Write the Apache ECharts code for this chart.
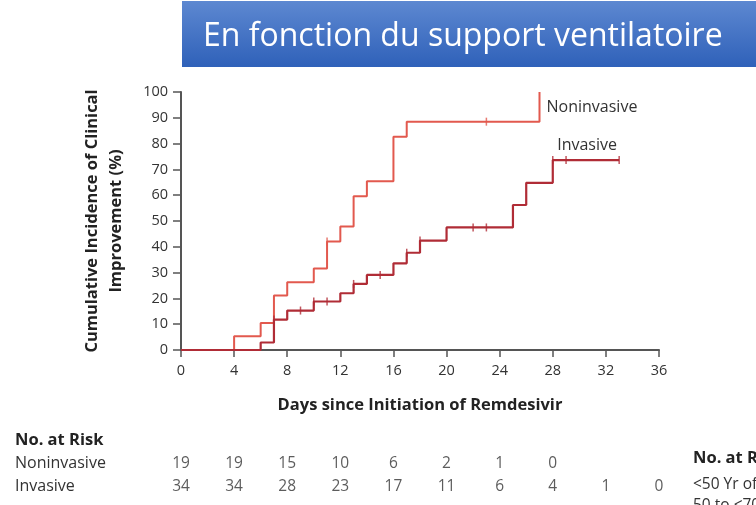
<!DOCTYPE html>
<html lang="fr">
<head>
    <meta charset="utf-8">
    <title>En fonction du support ventilatoire</title>
    <script src="https://cdn.jsdelivr.net/npm/echarts@6/dist/echarts.min.js"></script>
    <style>
        html, body { margin: 0; padding: 0; background: #fff; }
        #main { width: 756px; height: 505px; }
    </style>
</head>
<body>
<div id="main"></div>
<script type="text/javascript">
    // courbes d'incidence cumulée (jour, %)
    var nonInvasive = [[0, 0], [4, 5.3], [6, 10.5], [7, 21.1], [8, 26.3], [10, 31.6], [11, 42.1], [12, 47.9],
        [13, 59.6], [14, 65.4], [16, 82.7], [17, 88.5], [27, 88.5], [27, 100]];
    var invasive = [[0, 0], [6, 2.9], [7, 11.8], [8, 15.3], [10, 18.8], [12, 22.0], [13, 25.6], [14, 29.1],
        [16, 33.6], [17, 37.7], [18, 42.4], [20, 47.5], [25, 56.2], [26, 64.8], [28, 73.6], [33, 73.6]];
    // données censurées
    var nonInvasiveCensor = [[11, 42.1], [23, 88.5]];
    var invasiveCensor = [[7, 11.8], [9, 15.3], [10, 18.8], [11, 18.8], [13, 25.6], [15, 29.1], [17, 37.7],
        [18, 42.4], [22, 47.5], [23, 47.5], [28, 73.6], [29, 73.6], [33, 73.6]];
    // nombre de patients à risque
    var riskDays = [0, 4, 8, 12, 16, 20, 24, 28, 32, 36];
    var riskNonInvasive = [19, 19, 15, 10, 6, 2, 1, 0];
    var riskInvasive = [34, 34, 28, 23, 17, 11, 6, 4, 1, 0];
    var rowNames = ['Noninvasive', 'Invasive'];

    var font = 'Open Sans';
    var colNon = '#e2594e';
    var colInv = '#b02c36';

    function riskPoints(arr, row) {
        return arr.map(function (v, i) { return [riskDays[i], row, v]; });
    }

    var myChart = echarts.init(document.getElementById('main'));

    var option = {
        backgroundColor: '#fff',
        animation: false,
        textStyle: { fontFamily: font },
        grid: [
            { left: 181, right: 97, top: 92, bottom: 155 },
            { left: 181, right: 97, top: 452, height: 46 }
        ],
        xAxis: [
            {
                gridIndex: 0, type: 'value', min: 0, max: 36, interval: 4,
                name: 'Days since Initiation of Remdesivir', nameLocation: 'middle', nameGap: 47,
                nameTextStyle: { fontSize: 16.5, fontWeight: 'bold', color: '#222' },
                axisLine: { lineStyle: { color: '#555', width: 2 } },
                axisTick: { length: 7, lineStyle: { color: '#555', width: 1.5 } },
                axisLabel: { fontSize: 14.5, color: '#333', margin: 13 },
                splitLine: { show: false }
            },
            {
                gridIndex: 1, type: 'value', min: 0, max: 36, show: false
            }
        ],
        yAxis: [
            {
                gridIndex: 0, type: 'value', min: 0, max: 100, interval: 10,
                name: 'Cumulative Incidence of Clinical\nImprovement (%)', nameLocation: 'middle',
                nameRotate: 90, nameGap: 53,
                nameTextStyle: { fontSize: 16.5, fontWeight: 'bold', color: '#222', lineHeight: 24 },
                axisLine: { show: true, lineStyle: { color: '#555', width: 2 } },
                axisTick: { show: true, length: 8, lineStyle: { color: '#555', width: 1.5 } },
                axisLabel: { fontSize: 14.5, color: '#333', margin: 13 },
                splitLine: { show: false }
            },
            {
                gridIndex: 1, type: 'category', data: rowNames, inverse: true,
                axisLine: { show: false }, axisTick: { show: false },
                axisLabel: { fontSize: 16, color: '#333', margin: 166, align: 'left' }
            }
        ],
        series: [
            {
                name: 'Noninvasive', type: 'line', step: 'end', data: nonInvasive,
                symbol: 'none', lineStyle: { color: colNon, width: 2 }, z: 3,
                endLabel: {
                    show: true, formatter: 'Noninvasive', fontSize: 16, color: '#333',
                    distance: 0, offset: [7, 15]
                }
            },
            {
                name: 'Invasive', type: 'line', step: 'end', data: invasive,
                symbol: 'none', lineStyle: { color: colInv, width: 2.2 }, z: 4,
                endLabel: {
                    show: true, formatter: 'Invasive', fontSize: 16, color: '#333',
                    distance: 0, offset: [-62, -15]
                }
            },
            {
                type: 'scatter', data: nonInvasiveCensor, symbol: 'rect', symbolSize: [1.5, 8],
                itemStyle: { color: colNon }, z: 5, silent: true
            },
            {
                type: 'scatter', data: invasiveCensor, symbol: 'rect', symbolSize: [1.5, 8],
                itemStyle: { color: colInv }, z: 5, silent: true
            },
            {
                type: 'scatter', xAxisIndex: 1, yAxisIndex: 1, data: riskPoints(riskNonInvasive, 'Noninvasive'),
                symbolSize: 0, silent: true,
                label: { show: true, position: 'inside', formatter: function (p) { return p.value[2]; },
                    fontSize: 15.5, color: '#333' }
            },
            {
                type: 'scatter', xAxisIndex: 1, yAxisIndex: 1, data: riskPoints(riskInvasive, 'Invasive'),
                symbolSize: 0, silent: true,
                label: { show: true, position: 'inside', formatter: function (p) { return p.value[2]; },
                    fontSize: 15.5, color: '#333' }
            }
        ],
        graphic: [
            {
                type: 'rect', left: 182, top: 1, z: 10,
                shape: { width: 580, height: 66 },
                style: {
                    fill: new echarts.graphic.LinearGradient(0, 0, 0, 1, [
                        { offset: 0, color: '#5d88d1' },
                        { offset: 1, color: '#2f61b9' }
                    ])
                }
            },
            {
                type: 'text', x: 203, y: 37, z: 11,
                style: { text: 'En fonction du support ventilatoire', fill: '#fff', font: '32px "Open Sans"',
                    verticalAlign: 'middle' }
            },
            {
                type: 'text', x: 15, y: 440, z: 11,
                style: { text: 'No. at Risk', fill: '#222', font: 'bold 16.5px "Open Sans"', verticalAlign: 'middle' }
            },
            {
                type: 'text', x: 693, y: 458, z: 11,
                style: { text: 'No. at Risk', fill: '#222', font: 'bold 16.5px "Open Sans"', verticalAlign: 'middle' }
            },
            {
                type: 'text', x: 693, y: 485, z: 11,
                style: { text: '<50 Yr of age', fill: '#333', font: '15.5px "Open Sans"', verticalAlign: 'middle' }
            },
            {
                type: 'text', x: 693, y: 506, z: 11,
                style: { text: '50 to <70 Yr', fill: '#333', font: '15.5px "Open Sans"', verticalAlign: 'middle' }
            }
        ]
    };

    myChart.setOption(option);
</script>
</body>
</html>
